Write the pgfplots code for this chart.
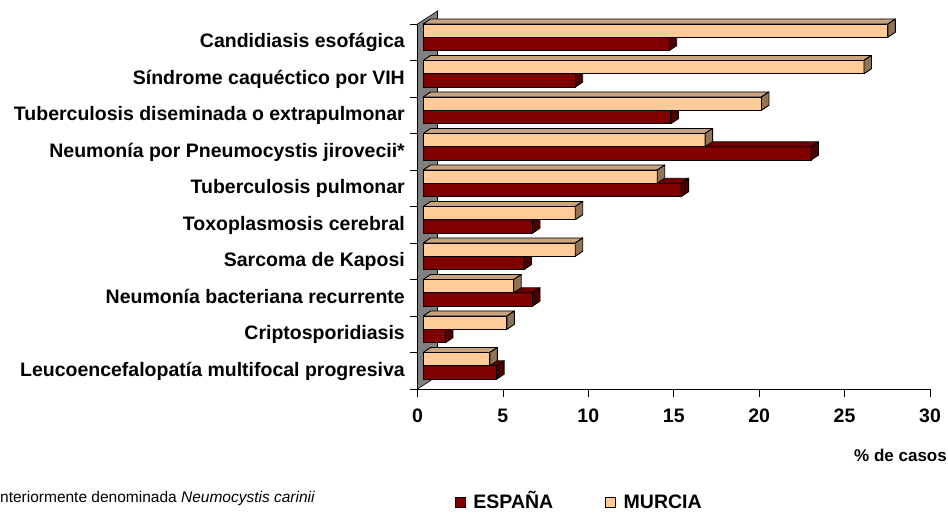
\documentclass[border=0pt]{standalone}
\usepackage{fontspec}
\setmainfont{Liberation Sans}
\usepackage{pgfplots}
\pgfplotsset{compat=1.18}
\usepackage{pgfplotstable}
\definecolor{espfront}{HTML}{800000}
\definecolor{esptop}{HTML}{720000}
\definecolor{espside}{HTML}{4A0000}
\definecolor{murfront}{HTML}{FFCC99}
\definecolor{murtop}{HTML}{C9A27E}
\definecolor{murside}{HTML}{8F7456}
\definecolor{wallgray}{HTML}{808080}
\pgfdeclareplotmark{nomark}{}
\def\hh{6.66pt}\def\dxx{7.5pt}\def\dyy{5pt}
\newcommand\drawcap[2]{%
  \pgfmathsetlengthmacro\capL{\val*17.0833}%
  \path[fill=#1,draw=black,line width=0.9pt,line join=round] (-\capL,\hh) -- (0pt,\hh) -- (\dxx,\hh+\dyy) -- (-\capL+\dxx,\hh+\dyy) -- cycle;
  \path[fill=#2,draw=black,line width=0.9pt,line join=round] (0pt,-\hh) -- (\dxx,-\hh+\dyy) -- (\dxx,\hh+\dyy) -- (0pt,\hh) -- cycle;
}
% y: 0 = Leucoencefalopatia ... 9 = Candidiasis esofagica
\pgfplotstableread{
y esp mur
0 4.3 3.9
1 1.3 4.9
2 6.4 5.3
3 5.9 8.9
4 6.4 8.9
5 15.1 13.7
6 22.7 16.5
7 14.5 19.8
8 8.9 25.8
9 14.4 27.2
}\datatable
\begin{document}
\begin{tikzpicture}
\begin{axis}[
  set layers,
  at={(417.5pt,124pt)}, anchor=south west,
  x=17.0833pt, y=36.5pt,
  xmin=-0.3333, xmax=29.6667, ymin=0, ymax=10,
  enlargelimits=false, clip=false, clip marker paths=true,
  axis x line*=bottom, axis y line*=left,
  axis line style={line width=0.8pt, -},
  tick align=outside, major tick length=8pt,
  tick style={black, line width=0.8pt},
  /pgf/number format/assume math mode=true,
  xtick={-0.3333,4.6667,9.6667,14.6667,19.6667,24.6667,29.6667},
  xticklabels={0,5,10,15,20,25,30},
  xticklabel style={font=\bfseries\fontsize{19.5}{22}\selectfont, anchor=base, inner sep=0pt, yshift=-25.7pt},
  ytick={0,1,2,3,4,5,6,7,8,9,10}, yticklabels={},
  extra y ticks={0.5,1.5,2.5,3.5,4.5,5.5,6.5,7.5,8.5,9.5},
  extra y tick labels={Leucoencefalopatía multifocal progresiva,Criptosporidiasis,Neumonía bacteriana recurrente,Sarcoma de Kaposi,Toxoplasmosis cerebral,Tuberculosis pulmonar,Neumonía por Pneumocystis jirovecii*,Tuberculosis diseminada o extrapulmonar,Síndrome caquéctico por VIH,Candidiasis esofágica},
  extra y tick style={major tick length=0pt},
  yticklabel style={font=\bfseries\fontsize{19.5}{22}\selectfont, anchor=base east, inner sep=0pt, xshift=-12.5pt, yshift=-5.7pt},
  xlabel={\% de casos},
  xlabel style={at={(axis description cs:1.0332,-0.1973)}, anchor=base east, inner sep=0pt, font=\bfseries\fontsize{17}{20}\selectfont},
  legend columns=2,
  legend style={draw=none, fill=none, inner sep=0pt, outer sep=0pt,
    at={(axis description cs:0.0732,-0.3370)}, anchor=south west,
    font=\bfseries\fontsize{19.5}{22}\selectfont,
    /tikz/every even column/.append style={column sep=50pt}},
]
\begin{pgfonlayer}{axis background}
\fill[wallgray, draw=black, line width=0.6pt] (axis cs:-0.3333,0) -- (axis cs:-0.3333,10) -- ([shift={(20pt,13pt)}]axis cs:-0.3333,10) -- ([shift={(20pt,13pt)}]axis cs:-0.3333,0) -- cycle;
\end{pgfonlayer}
\addplot[xbar, bar width=0.365, bar shift=-0.047, fill=espfront, draw=black, line width=0.9pt,
  legend image code/.code={\draw[fill=espfront,draw=black,line width=0.9pt] (0pt,-8pt) rectangle (10pt,2pt); \path[draw=none,fill=none] (0pt,0pt) -- (16pt,0pt);}]
  table[x=esp, y expr=\thisrow{y}+0.5] {\datatable};
\addlegendentry{\rule{0pt}{19pt}ESPAÑA}
\addplot[forget plot, scatter, only marks, mark=nomark,
  visualization depends on={\thisrow{esp} \as \val},
  scatter/@pre marker code/.code={\drawcap{esptop}{espside}},
  scatter/@post marker code/.code={}]
  table[x=esp, y expr=\thisrow{y}+0.5-0.047] {\datatable};
\addplot[xbar, bar width=0.365, bar shift=0.318, fill=murfront, draw=black, line width=0.9pt,
  legend image code/.code={\draw[fill=murfront,draw=black,line width=0.9pt] (0pt,-8pt) rectangle (10pt,2pt); \path[draw=none,fill=none] (0pt,0pt) -- (16pt,0pt);}]
  table[x=mur, y expr=\thisrow{y}+0.5] {\datatable};
\addlegendentry{\rule{0pt}{19pt}MURCIA}
\addplot[forget plot, scatter, only marks, mark=nomark,
  visualization depends on={\thisrow{mur} \as \val},
  scatter/@pre marker code/.code={\drawcap{murtop}{murside}},
  scatter/@post marker code/.code={}]
  table[x=mur, y expr=\thisrow{y}+0.5+0.318] {\datatable};
\end{axis}
\node[anchor=base west, inner sep=0pt, font=\fontsize{15.5}{18}\selectfont] at (-16.4pt,10pt) {*Anteriormente denominada \textit{Neumocystis carinii}};
\pgfresetboundingbox
\path[use as bounding box] (0,0) rectangle (948pt,513pt);
\end{tikzpicture}
\end{document}
